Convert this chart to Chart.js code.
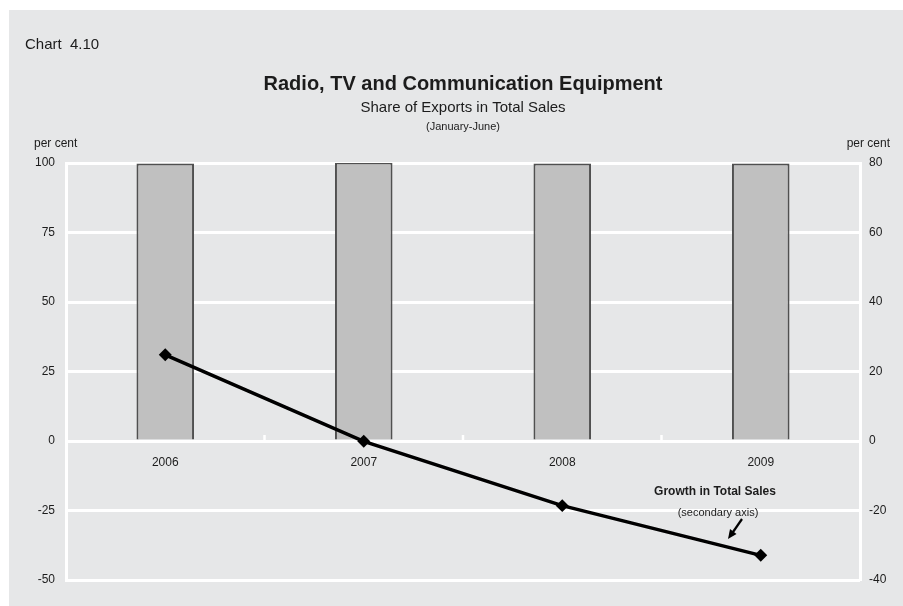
<!DOCTYPE html>
<html>
<head>
<meta charset="utf-8">
<script src="https://cdn.jsdelivr.net/npm/chart.js@4.4.1/dist/chart.umd.min.js"></script>
<style>
  html, body { margin: 0; padding: 0; background: #ffffff; }
  #wrap { width: 903px; height: 606px; }
</style>
</head>
<body>
<div id="wrap"><canvas id="myChart" width="903" height="606"></canvas></div>
<script>
// chart data
const years = ["2006", "2007", "2008", "2009"];
const exportShare = [99.8, 100.2, 99.8, 99.8];      // per cent, left axis
const salesGrowth = [24.8, -0.1, -18.6, -32.9];     // per cent, right (secondary) axis
const leftTicks = [-50, -25, 0, 25, 50, 75, 100];
const rightTicks = [-40, -20, 0, 20, 40, 60, 80];

const panelGrey = "#e6e7e8";
const textColor = "#1c1c1c";
const fontFamily = "'Liberation Sans', Arial, sans-serif";

// background panel + all the header / annotation text
const decorations = {
    id: "decorations",
    beforeDraw(chart) {
        const ctx = chart.ctx;
        ctx.save();
        ctx.fillStyle = "#ffffff";
        ctx.fillRect(0, 0, chart.width, chart.height);
        ctx.fillStyle = panelGrey;
        ctx.fillRect(9, 10, chart.width - 9, chart.height - 10);
        ctx.restore();
    },
    beforeDatasetsDraw(chart) {
        // small white ticks between the categories on the zero line
        const ctx = chart.ctx;
        const x = chart.scales.x;
        const y0 = chart.scales.y.getPixelForValue(0);
        ctx.save();
        ctx.strokeStyle = "#ffffff";
        ctx.lineWidth = 2.5;
        for (let i = 0; i < years.length - 1; i++) {
            const px = (x.getPixelForTick(i) + x.getPixelForTick(i + 1)) / 2;
            ctx.beginPath();
            ctx.moveTo(px, y0);
            ctx.lineTo(px, y0 - 6);
            ctx.stroke();
        }
        ctx.restore();
    },
    afterDraw(chart) {
        const ctx = chart.ctx;
        const area = chart.chartArea;
        const cx = (area.left + area.right) / 2;
        ctx.save();
        ctx.fillStyle = textColor;
        ctx.textBaseline = "middle";

        ctx.textAlign = "left";
        ctx.font = "15px " + fontFamily;
        ctx.fillText("Chart  4.10", 25, 45);

        ctx.textAlign = "center";
        ctx.font = "bold 20px " + fontFamily;
        ctx.fillText("Radio, TV and Communication Equipment", cx, 84);
        ctx.font = "15px " + fontFamily;
        ctx.fillText("Share of Exports in Total Sales", cx, 108);
        ctx.font = "11px " + fontFamily;
        ctx.fillText("(January-June)", cx, 127);

        ctx.font = "12px " + fontFamily;
        ctx.textAlign = "left";
        ctx.fillText("per cent", 34, 144);
        ctx.textAlign = "right";
        ctx.fillText("per cent", 890, 144);

        // series annotation
        ctx.textAlign = "center";
        ctx.font = "bold 12px " + fontFamily;
        ctx.fillText("Growth in Total Sales", 715, 492);
        ctx.font = "11px " + fontFamily;
        ctx.fillText("(secondary axis)", 718, 513);

        // arrow
        ctx.strokeStyle = "#000000";
        ctx.fillStyle = "#000000";
        ctx.lineWidth = 2.2;
        ctx.beginPath();
        ctx.moveTo(742, 519);
        ctx.lineTo(733, 532);
        ctx.stroke();
        ctx.beginPath();
        ctx.moveTo(728, 539);
        ctx.lineTo(730, 529);
        ctx.lineTo(736.5, 534);
        ctx.closePath();
        ctx.fill();
        ctx.restore();
    }
};

const ctx = document.getElementById("myChart");

new Chart(ctx, {
    data: {
        labels: years,
        datasets: [
            {
                type: "line",
                label: "Growth in Total Sales",
                data: salesGrowth,
                yAxisID: "y2",
                borderColor: "#000000",
                borderWidth: 3.5,
                tension: 0,
                pointStyle: "rectRot",
                pointRadius: 4,
                pointBackgroundColor: "#000000",
                pointBorderColor: "#000000",
                order: 0
            },
            {
                type: "bar",
                label: "Share of Exports in Total Sales",
                data: exportShare,
                yAxisID: "y",
                backgroundColor: "#c0c0c0",
                borderColor: "#505050",
                borderWidth: 2,
                categoryPercentage: 1,
                barPercentage: 0.29,
                order: 1
            }
        ]
    },
    options: {
        responsive: false,
        animation: false,
        layout: { padding: { left: 0, right: 0, top: 163, bottom: 26 } },
        plugins: {
            legend: { display: false },
            title: { display: false },
            tooltip: { enabled: false }
        },
        scales: {
            x: {
                type: "category",
                position: { y: 0 },
                offset: true,
                grid: { display: false },
                border: { display: false },
                ticks: {
                    color: textColor,
                    font: { family: fontFamily, size: 12 },
                    padding: 6,
                    maxRotation: 0
                }
            },
            y: {
                position: "left",
                min: -50,
                max: 100,
                afterBuildTicks(scale) {
                    scale.ticks = leftTicks.map(v => ({ value: v }));
                },
                afterFit(scale) { scale.width = 66; },
                grid: { color: "#ffffff", lineWidth: 3, drawTicks: false },
                border: { display: true, color: "#ffffff", width: 3 },
                ticks: {
                    color: textColor,
                    font: { family: fontFamily, size: 12 },
                    padding: 11
                }
            },
            y2: {
                position: "right",
                min: -40,
                max: 80,
                afterBuildTicks(scale) {
                    scale.ticks = rightTicks.map(v => ({ value: v }));
                },
                afterFit(scale) { scale.width = 43; },
                grid: { drawOnChartArea: false, drawTicks: false },
                border: { display: true, color: "#ffffff", width: 3 },
                ticks: {
                    color: textColor,
                    font: { family: fontFamily, size: 12 },
                    padding: 9
                }
            }
        }
    },
    plugins: [decorations]
});
</script>
</body>
</html>
